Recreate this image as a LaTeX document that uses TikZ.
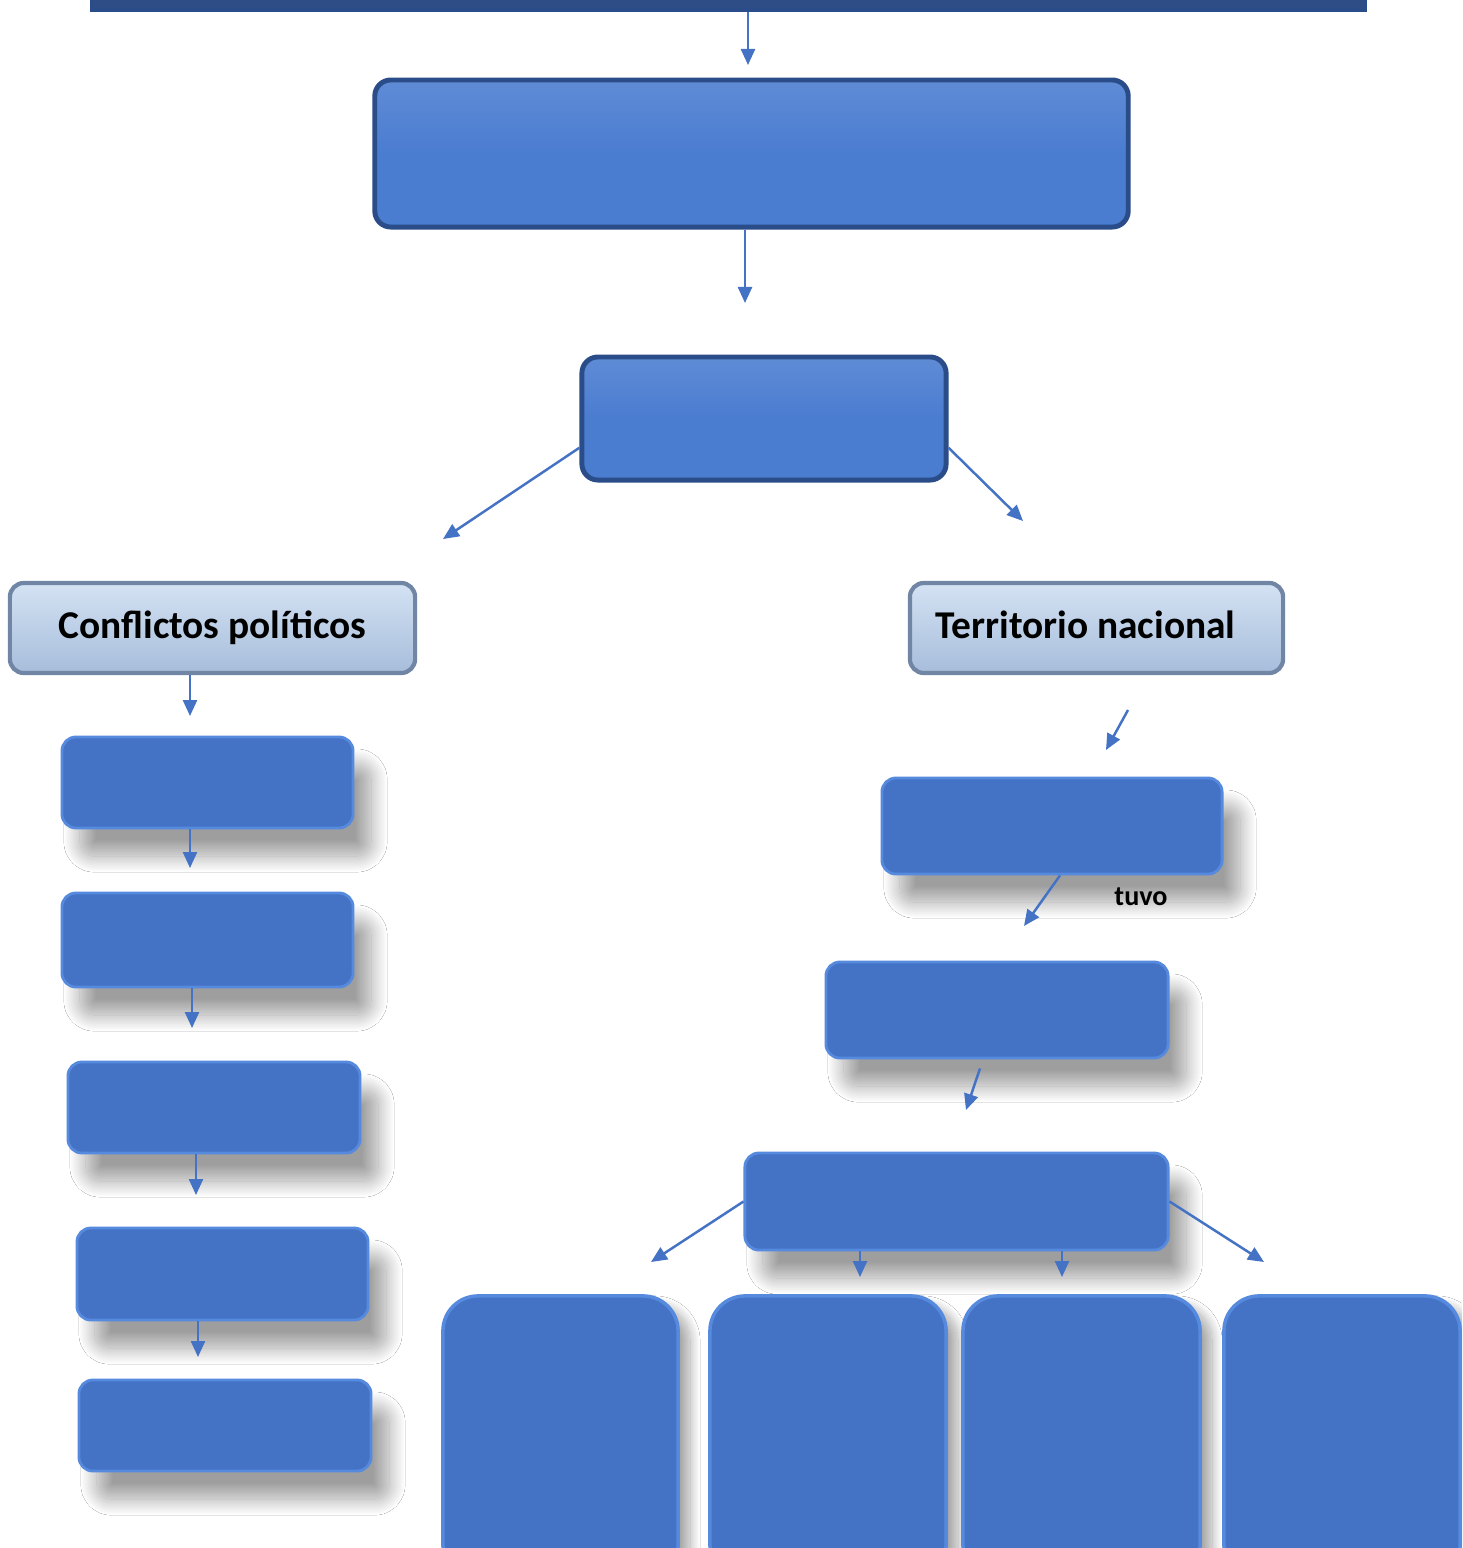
\documentclass[tikz,border=0pt]{standalone}
\usepackage{fontspec}
\setsansfont{Carlito}
\usetikzlibrary{arrows.meta,shadows.blur}

\definecolor{azul}{RGB}{68,114,196}
\definecolor{azulvivo}{RGB}{74,124,208}
\definecolor{borde}{RGB}{42,76,136}
\definecolor{marino}{RGB}{46,76,134}
\definecolor{brillo}{RGB}{86,138,222}
\definecolor{celestearriba}{RGB}{212,226,243}
\definecolor{celesteabajo}{RGB}{166,189,219}
\definecolor{bordeclaro}{RGB}{112,134,164}

\tikzset{
  barra/.style={rectangle, fill=marino, draw=borde, line width=1pt},
  cajagrande/.style={rectangle, rounded corners=0.16cm, top color=azulvivo!88!white, bottom color=azulvivo, middle color=azulvivo, draw=borde, line width=1.4pt},
  cajaclara/.style={rectangle, rounded corners=0.14cm, top color=celestearriba, bottom color=celesteabajo, draw=bordeclaro, line width=1.2pt, font=\sffamily\bfseries\fontsize{11.2}{13}\selectfont},
  cajaazul/.style={rectangle, rounded corners=0.14cm, fill=azul, draw=brillo, line width=0.8pt,
    blur shadow={shadow xshift=0.18cm, shadow yshift=-0.28cm, shadow blur radius=0.16cm, shadow blur steps=25, shadow opacity=38}},
  cuadro/.style={rectangle, rounded corners=0.35cm, fill=azul, draw=brillo, line width=1pt,
    blur shadow={shadow xshift=0.12cm, shadow yshift=-0.1cm, shadow blur radius=0.1cm, shadow blur steps=20, shadow opacity=35}},
  flecha/.style={draw=azul, line width=0.7pt, -{Triangle[length=0.16cm,width=0.14cm]}}
}

\begin{document}
\begin{tikzpicture}[x=0.01cm, y=-0.01cm]
\clip (0,0) rectangle (1462,1548);
\fill[white] (0,0) rectangle (1462,1548);

\node[barra, minimum width=12.73cm, minimum height=0.3cm] (cabecera) at (728.5,-5) {};
\node[cajagrande, minimum width=7.53cm, minimum height=1.47cm] (causa) at (751.5,153.5) {};
\node[cajagrande, minimum width=3.64cm, minimum height=1.23cm] (tema) at (764,418.5) {};

\node[cajaclara, minimum width=4.05cm, minimum height=0.9cm] (conflictos) at (212.5,628) {\raisebox{0.07cm}{Conflictos políticos}};
\node[cajaclara, minimum width=3.73cm, minimum height=0.9cm] (territorio) at (1096.5,628) {\hspace*{-0.22cm}\raisebox{0.07cm}{Territorio nacional}};

\node[cajaazul, minimum width=2.91cm, minimum height=0.91cm] (c1) at (207.5,782.5) {};
\node[cajaazul, minimum width=2.91cm, minimum height=0.94cm] (c2) at (207.5,940) {};
\node[cajaazul, minimum width=2.92cm, minimum height=0.91cm] (c3) at (214,1107.5) {};
\node[cajaazul, minimum width=2.91cm, minimum height=0.92cm] (c4) at (222.5,1274) {};
\node[cajaazul, minimum width=2.92cm, minimum height=0.91cm] (c5) at (225,1425.5) {};

\node[cajaazul, minimum width=3.40cm, minimum height=0.96cm] (t1) at (1052,826) {};
\node[cajaazul, minimum width=3.42cm, minimum height=0.96cm] (t2) at (997,1010) {};
\node[cajaazul, minimum width=4.23cm, minimum height=0.97cm] (t3) at (956.5,1201.5) {};

\node[cuadro, minimum width=2.35cm, minimum height=2.84cm] (b1) at (560.5,1438) {};
\node[cuadro, minimum width=2.36cm, minimum height=2.84cm] (b2) at (828,1438) {};
\node[cuadro, minimum width=2.37cm, minimum height=2.84cm] (b3) at (1081.5,1438) {};
\node[cuadro, minimum width=2.36cm, minimum height=2.84cm] (b4) at (1342,1438) {};

\node[font=\sffamily\bfseries\fontsize{8}{10}\selectfont] (tuvo) at (1141,897) {tuvo};

\coordinate (p1) at (748,65);
\coordinate (p2) at (745,303);
\coordinate (p3) at (443,539);
\coordinate (p4) at (1023,521);
\coordinate (p5) at (190,716);
\coordinate (p6) at (190,868);
\coordinate (p7) at (192,1028);
\coordinate (p8) at (196,1195);
\coordinate (p9) at (198,1357);
\coordinate (q0) at (1128,710);
\coordinate (q1) at (1106,750);
\coordinate (q2) at (1024,926);
\coordinate (q3) at (966,1110);
\coordinate (q4) at (651,1262);
\coordinate (q5) at (1264,1262);
\coordinate (q6) at (860,1277);
\coordinate (q7) at (1062,1277);

\draw[flecha] (cabecera.south -| p1) -- (p1);
\draw[flecha] (causa.south -| p2) -- (p2);
\draw[flecha] (tema.189) -- (p3);
\draw[flecha] (tema.351) -- (p4);
\draw[flecha] (conflictos.south -| p5) -- (p5);
\draw[flecha] (c1.south -| p6) -- (p6);
\draw[flecha] (c2.south -| p7) -- (p7);
\draw[flecha] (c3.south -| p8) -- (p8);
\draw[flecha] (c4.south -| p9) -- (p9);
\draw[flecha] (q0) -- (q1);
\draw[flecha] ([xshift=0.08cm]t1.south) -- (q2);
\draw[flecha] ([xshift=-0.17cm,yshift=-0.09cm]t2.south) -- (q3);
\draw[flecha] (t3.west) -- (q4);
\draw[flecha] (t3.east) -- (q5);
\draw[flecha] (t3.south -| q6) -- (q6);
\draw[flecha] (t3.south -| q7) -- (q7);
\end{tikzpicture}
\end{document}
